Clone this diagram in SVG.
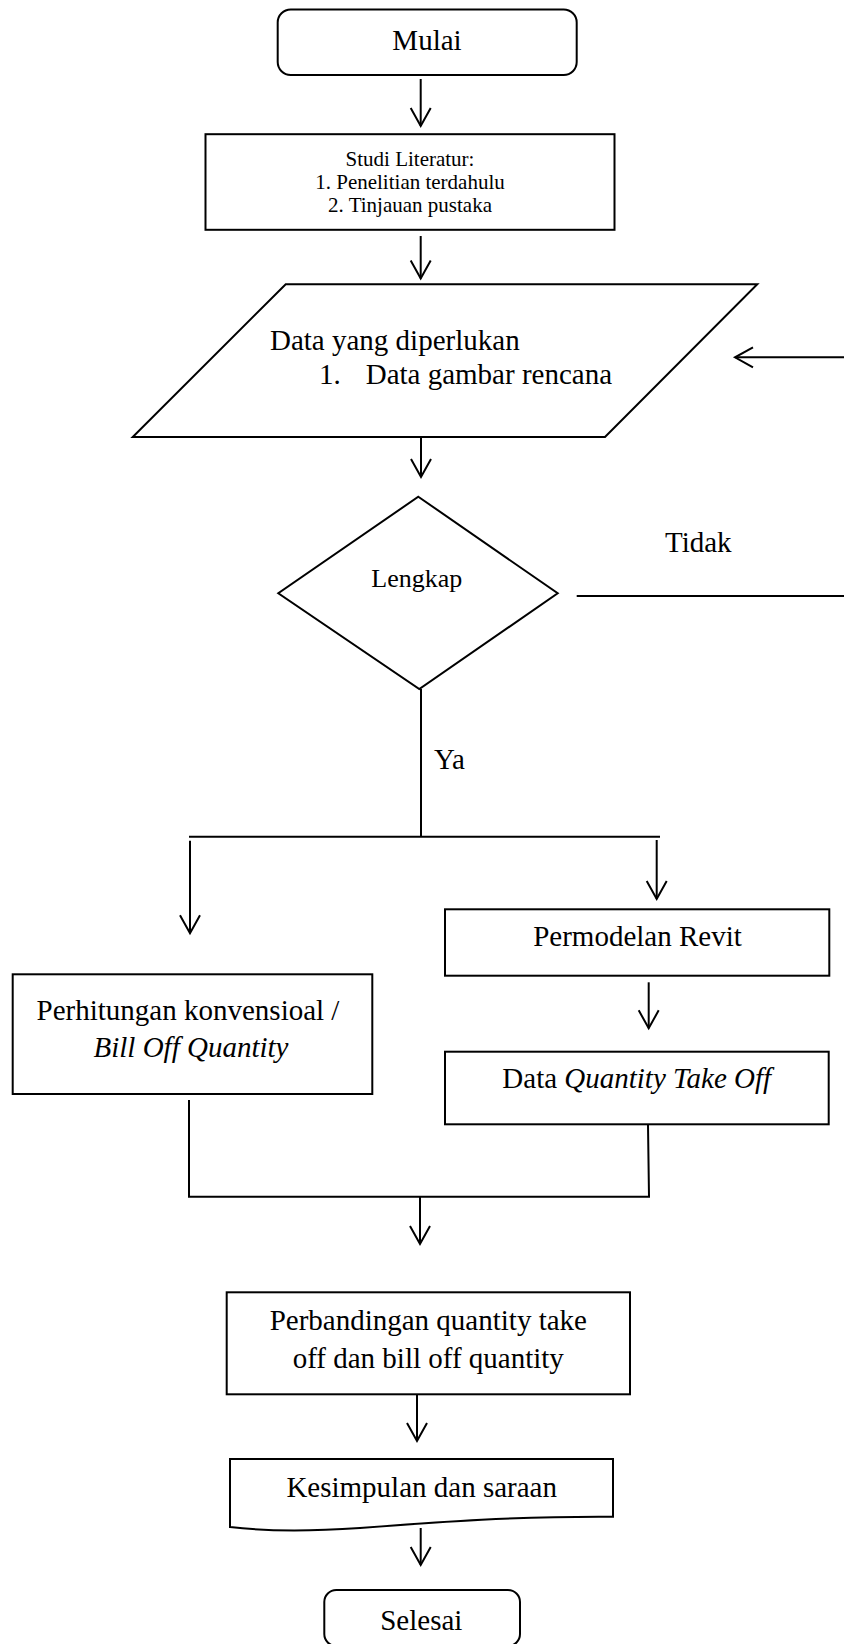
<svg xmlns="http://www.w3.org/2000/svg" width="844" height="1644" viewBox="0 0 844 1644">
<style>
.s{fill:#fff;stroke:#000;stroke-width:2}
.c{fill:none;stroke:#000;stroke-width:2}
.t{font-family:"Liberation Serif","Times New Roman",serif;fill:#000;font-size:29px}
.m{text-anchor:middle}
.i{font-style:italic}
</style>
<defs>
<marker id="ah" viewBox="-20 -12 24 24" markerWidth="24" markerHeight="24" refX="0" refY="0" orient="auto" markerUnits="userSpaceOnUse" overflow="visible">
<path d="M-18,-10 L0,0 L-18,10" fill="none" stroke="#000" stroke-width="2"/>
</marker>
</defs>
<rect width="844" height="1644" fill="#fff"/>
<g id="connectors">
<line class="c" x1="420.7" y1="79" x2="420.7" y2="126" marker-end="url(#ah)"/>
<line class="c" x1="420.7" y1="236" x2="420.7" y2="278.5" marker-end="url(#ah)"/>
<line class="c" x1="421" y1="438" x2="421" y2="477" marker-end="url(#ah)"/>
<line class="c" x1="576.7" y1="596" x2="846" y2="596"/>
<line class="c" x1="846" y1="357.3" x2="735" y2="357.3" marker-end="url(#ah)"/>
<text class="t" x="665" y="551.7">Tidak</text>
<line class="c" x1="421" y1="689" x2="421" y2="837"/>
<text class="t" x="434" y="768.5">Ya</text>
<line class="c" x1="189" y1="836.7" x2="660" y2="836.7"/>
<line class="c" x1="190" y1="840.7" x2="190" y2="933.3" marker-end="url(#ah)"/>
<line class="c" x1="656.7" y1="840" x2="656.7" y2="899" marker-end="url(#ah)"/>
<line class="c" x1="648.7" y1="982.3" x2="648.7" y2="1028.3" marker-end="url(#ah)"/>
<polyline class="c" points="189,1100 189,1196.7 649,1196.7 648,1125"/>
<line class="c" x1="420" y1="1196.7" x2="420" y2="1244" marker-end="url(#ah)"/>
<line class="c" x1="417" y1="1394.3" x2="417" y2="1441" marker-end="url(#ah)"/>
<line class="c" x1="420.7" y1="1528" x2="420.7" y2="1565" marker-end="url(#ah)"/>
</g>
<g id="mulai">
<rect class="s" x="277.7" y="9.5" width="299" height="65.5" rx="13"/>
<text class="t m" x="427" y="50">Mulai</text>
</g>
<g id="studi-literatur">
<rect class="s" x="205.5" y="134.2" width="409" height="95.6"/>
<text class="t m" style="font-size:21px" x="410" y="165.7">Studi Literatur:</text>
<text class="t m" style="font-size:21px" x="410" y="188.5">1. Penelitian terdahulu</text>
<text class="t m" style="font-size:21px" x="410" y="211.5">2. Tinjauan pustaka</text>
</g>
<g id="data-diperlukan">
<polygon class="s" points="285.7,284.3 757.3,284.3 605,437 132.7,437"/>
<text class="t" x="270" y="350">Data yang diperlukan</text>
<text class="t" x="319" y="384.3">1.</text>
<text class="t" x="365.7" y="384.3">Data gambar rencana</text>
</g>
<g id="lengkap">
<polygon class="s" points="418.3,496.7 557.7,593.3 419.3,689 278.3,593.3"/>
<text class="t m" style="font-size:26px" x="416.8" y="587.3">Lengkap</text>
</g>
<g id="permodelan-revit">
<rect class="s" x="445" y="909.3" width="384.3" height="66.4"/>
<text class="t m" x="637.5" y="946">Permodelan Revit</text>
</g>
<g id="data-qto">
<rect class="s" x="445" y="1051.7" width="383.7" height="72.6"/>
<text class="t m" x="636.7" y="1088.3">Data <tspan class="i">Quantity Take Off</tspan></text>
</g>
<g id="perhitungan-konvensional">
<rect class="s" x="12.7" y="974.3" width="359.6" height="119.7"/>
<text class="t m" x="188" y="1020">Perhitungan konvensioal /</text>
<text class="t m i" x="191" y="1057">Bill Off Quantity</text>
</g>
<g id="perbandingan">
<rect class="s" x="226.7" y="1292.3" width="403.3" height="102"/>
<text class="t m" x="428.3" y="1330">Perbandingan quantity take</text>
<text class="t m" x="428.3" y="1368.3">off dan bill off quantity</text>
</g>
<g id="kesimpulan">
<path class="s" d="M230,1459 H613 V1516.7 C520,1516 440,1522 360,1528 C300,1532 255,1530 230,1527 Z"/>
<text class="t m" x="421.7" y="1496.7">Kesimpulan dan saraan</text>
</g>
<g id="selesai">
<rect class="s" x="324.3" y="1590" width="195.7" height="56" rx="12"/>
<text class="t m" x="421.3" y="1630">Selesai</text>
</g>
</svg>
